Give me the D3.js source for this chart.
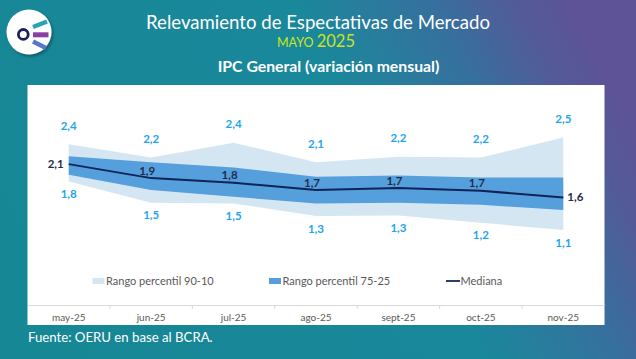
<!DOCTYPE html>
<html><head><meta charset="utf-8">
<script src="https://cdn.jsdelivr.net/npm/d3@7/dist/d3.min.js"></script>
<style>
html,body{margin:0;padding:0;overflow:hidden;background:#1a8a9a;}
svg{display:block;font-family:Lato,"Open Sans",sans-serif;}
</style></head><body>
<svg id="c" width="636" height="359"></svg>
<script>
const months = ["may-25","jun-25","jul-25","ago-25","sept-25","oct-25","nov-25"];
const p90    = [2.40, 2.20, 2.42, 2.13, 2.21, 2.20, 2.50];
const p75    = [2.22, 2.13, 2.05, 1.91, 1.93, 1.90, 1.90];
const median = [2.10, 1.89, 1.82, 1.71, 1.74, 1.70, 1.60];
const p25    = [1.94, 1.71, 1.61, 1.51, 1.52, 1.49, 1.41];
const p10    = [1.84, 1.52, 1.51, 1.32, 1.33, 1.22, 1.11];
const legendLabels = ["Rango percentil 90-10","Rango percentil 75-25","Mediana"];

const svg = d3.select("#c");
const W = 636, H = 359;
const defs = svg.append("defs");
const g1 = defs.append("linearGradient").attr("id","bg").attr("x1","0%").attr("y1","65%").attr("x2","100%").attr("y2","35%");
[[0,"#168795"],[0.6,"#1a889b"],[0.8,"#36709e"],[0.92,"#535a98"],[1,"#5d5396"]].forEach(s=>g1.append("stop").attr("offset",s[0]).attr("stop-color",s[1]));
svg.append("rect").attr("width",W).attr("height",H).attr("fill","url(#bg)");

const sh = defs.append("filter").attr("id","sh").attr("x","-30%").attr("y","-30%").attr("width","160%").attr("height","160%");
sh.append("feDropShadow").attr("dx",1.5).attr("dy",2).attr("stdDeviation",1.5).attr("flood-color","#000").attr("flood-opacity",0.35);
const bl = defs.append("filter").attr("id","bl");
bl.append("feGaussianBlur").attr("stdDeviation",0.5);

// logo
const lg = svg.append("g");
lg.append("circle").attr("cx",29).attr("cy",32).attr("r",22.5).attr("fill","#fff").attr("filter","url(#sh)");
const bars = lg.append("g").attr("filter","url(#bl)");
bars.append("line").attr("x1",33).attr("y1",27).attr("x2",47).attr("y2",21.5).attr("stroke","#2aa4b4").attr("stroke-width",4.5);
bars.append("line").attr("x1",33).attr("y1",34.8).attr("x2",48.5).attr("y2",34.8).attr("stroke","#8a3fa3").attr("stroke-width",5);
bars.append("line").attr("x1",33).attr("y1",41.5).attr("x2",46).attr("y2",48).attr("stroke","#5577cc").attr("stroke-width",4.5);
lg.append("circle").attr("cx",23.3).attr("cy",34.4).attr("r",4.9).attr("fill","#fff").attr("stroke","#1d2358").attr("stroke-width",2.8);

// titles
svg.append("text").attr("x",318).attr("y",28.5).attr("text-anchor","middle").attr("fill","#fff").attr("font-size",18.6).text("Relevamiento de Espectativas de Mercado");
const t2 = svg.append("text").attr("x",316).attr("y",47).attr("text-anchor","middle").attr("fill","#c8e61e");
t2.append("tspan").attr("font-size",12.5).text("MAYO ");
t2.append("tspan").attr("font-size",16.5).text("2025");
svg.append("text").attr("x",328.5).attr("y",71.5).attr("text-anchor","middle").attr("fill","#fff").attr("font-size",15.8).attr("font-weight","bold").text("IPC General (variación mensual)");

// panel
const px0 = 27.5, px1 = 604.5, py0 = 85, py1 = 325;
svg.append("rect").attr("x",px0).attr("y",py0).attr("width",px1-px0).attr("height",py1-py0).attr("fill","#fff");

const xb = d3.scaleBand().domain(months).range([px0,px1]);
const xc = d => xb(d) + xb.bandwidth()/2;
const y = d3.scaleLinear().domain([0,3.3]).range([304,84.2]);

const rows = months.map((m,i)=>({m, p90:p90[i], p75:p75[i], med:median[i], p25:p25[i], p10:p10[i]}));

svg.append("path").datum(rows).attr("fill","#d4e6f1")
  .attr("d", d3.area().x(d=>xc(d.m)).y0(d=>y(d.p10)).y1(d=>y(d.p90)));
svg.append("path").datum(rows).attr("fill","#569fdd")
  .attr("d", d3.area().x(d=>xc(d.m)).y0(d=>y(d.p25)).y1(d=>y(d.p75)));
svg.append("path").datum(rows).attr("fill","none").attr("stroke","#0e2459").attr("stroke-width",2)
  .attr("d", d3.line().x(d=>xc(d.m)).y(d=>y(d.med)));

const fmt = v => d3.format(".1f")(v).replace(".",",");
const lab = svg.append("g").attr("font-size",11.5).attr("font-weight","bold").attr("text-anchor","middle");
lab.selectAll(".t90").data(rows).join("text").attr("x",d=>xc(d.m)).attr("y",d=>y(d.p90)-14.5).attr("fill","#1ea6ec").text(d=>fmt(d.p90));
lab.selectAll(".t10").data(rows).join("text").attr("x",d=>xc(d.m)).attr("y",d=>y(d.p10)+16.5).attr("fill","#1ea6ec").text(d=>fmt(d.p10));
lab.selectAll(".tm").data(rows).join("text")
  .attr("x",(d,i)=> i===0 ? xc(d.m)-5 : i===rows.length-1 ? xc(d.m)+4 : xc(d.m)-4)
  .attr("y",(d,i)=> (i===0||i===rows.length-1) ? y(d.med)+4 : y(d.med)-3.5)
  .attr("text-anchor",(d,i)=> i===0 ? "end" : i===rows.length-1 ? "start" : "middle")
  .attr("fill","#1e2d4a").text(d=>fmt(d.med));

// axis
const ax = svg.append("g").attr("transform","translate(0,305)")
  .call(d3.axisBottom(xb).tickSize(0).tickPadding(8.5));
ax.select(".domain").attr("stroke","#d9d9d9");
ax.selectAll("text").attr("fill","#595959").attr("font-size",10).attr("font-family","Lato,'Open Sans',sans-serif");
svg.append("g").selectAll("line").data(months.slice(1)).join("line")
  .attr("x1",d=>xb(d)).attr("x2",d=>xb(d)).attr("y1",305).attr("y2",309).attr("stroke","#d9d9d9");

// legend
const leg = svg.append("g").attr("font-size",11).attr("fill","#595959");
const lx = [92.5, 269, 446];
leg.append("rect").attr("x",lx[0]).attr("y",278).attr("width",12).attr("height",6).attr("fill","#d4e6f1");
leg.append("rect").attr("x",lx[1]).attr("y",278).attr("width",12).attr("height",6).attr("fill","#569fdd");
leg.append("line").attr("x1",lx[2]).attr("x2",lx[2]+14).attr("y1",281).attr("y2",281).attr("stroke","#2e3f6e").attr("stroke-width",2);
leg.selectAll("text").data(legendLabels).join("text").attr("x",(d,i)=>lx[i]+(i===2?14.5:13.5)).attr("y",285).text(d=>d);

// footer
svg.append("text").attr("x",28).attr("y",342).attr("fill","#fff").attr("font-size",13.2).text("Fuente: OERU en base al BCRA.");
</script>
</body></html>
